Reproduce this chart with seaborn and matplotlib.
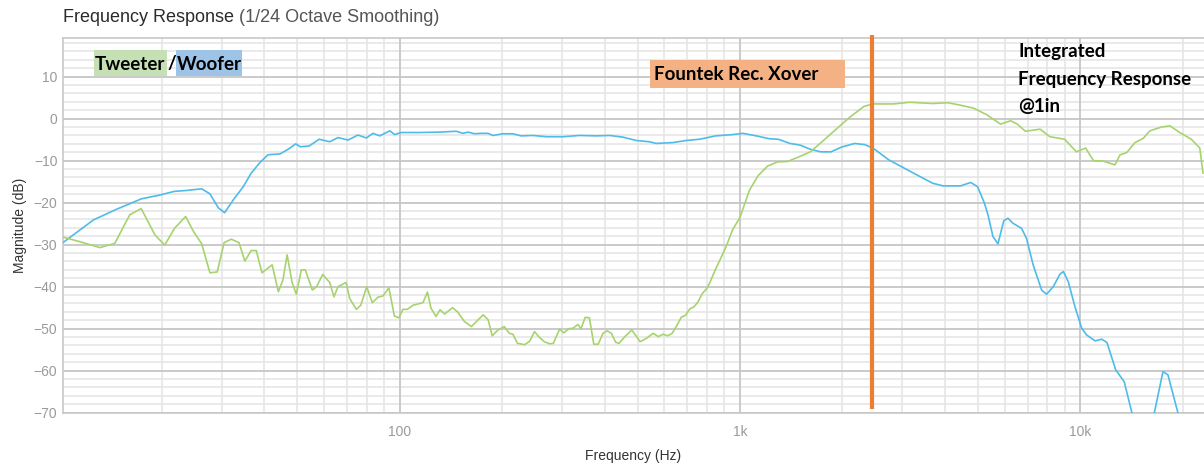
import matplotlib
matplotlib.use("Agg")
import matplotlib.pyplot as plt
from matplotlib.ticker import LogLocator, NullFormatter, FixedLocator, MultipleLocator
from matplotlib.patches import Rectangle
import seaborn as sns
import pandas as pd

# ---------------- data ----------------
woofer_freq = [10.25, 12.6, 14.7, 17.4, 19.7, 21.8, 23.6, 26.2, 27.7, 29.3, 30.6, 32.4, 34.7,
               36.6, 38.8, 41.0, 44.5, 47.0, 49.5, 51.1, 54.2, 58.0, 62.3, 65.9, 70.5, 75.4,
               79.8, 83.5, 87.4, 93.5, 96.7, 101, 114.5, 131, 146.7, 153.5, 158.8, 166, 173.8,
               181.8, 188, 201, 215, 227.5, 246, 270, 302, 338, 378, 414, 453, 496, 542, 567,
               635, 695, 761, 848, 951, 1020, 1117, 1223, 1295, 1403, 1503, 1611, 1727, 1851,
               1984, 2174, 2330, 2469, 2736, 3010, 3383, 3690, 3956, 4447, 4766, 4993, 5228,
               5360, 5540, 5730, 5960, 6130, 6340, 6720, 6950, 7270, 7700, 7960, 8330, 8720,
               8920, 9220, 9650, 10100, 10440, 11060, 11570, 11980, 12710, 13460, 14160, 15300,
               16530, 17500, 18100, 19330, 21000, 23100]
woofer_db = [-29.5, -24.1, -21.6, -19.1, -18.2, -17.3, -17.1, -16.7, -17.9, -21.2, -22.4, -19.4,
             -16.2, -13.0, -10.5, -8.6, -8.4, -7.3, -6.0, -6.7, -6.5, -4.9, -5.5, -4.5, -5.1,
             -3.9, -4.6, -3.5, -4.1, -2.9, -3.8, -3.3, -3.3, -3.2, -3.0, -3.5, -3.2, -3.6,
             -3.5, -3.5, -4.0, -3.6, -3.6, -4.1, -4.0, -4.3, -4.3, -4.0, -4.1, -4.0, -4.4,
             -5.2, -5.5, -5.9, -5.7, -5.2, -4.9, -4.1, -3.8, -3.5, -4.1, -4.8, -4.9, -5.9,
             -6.3, -7.3, -7.9, -7.9, -6.8, -5.9, -6.2, -7.1, -9.8, -11.6, -13.8, -15.4, -16.0,
             -16.0, -15.2, -16.2, -20.1, -23.0, -28.1, -29.8, -24.3, -23.7, -24.9, -26.1,
             -28.5, -34.8, -40.8, -41.8, -40.0, -37.0, -36.4, -38.8, -44.8, -49.9, -51.5,
             -52.9, -52.5, -53.3, -59.8, -62.6, -69.8, -78.0, -69.8, -60.2, -61.0, -69.8,
             -80.0, -82.0]

tweeter_freq = [10.25, 11.5, 13.15, 14.55, 16.1, 17.4, 19.1, 20.4, 21.8, 23.5, 24.8, 26.2, 27.7,
                29.1, 30.5, 32.0, 33.7, 35.1, 36.6, 37.9, 39.4, 42.2, 44.0, 45.4, 46.7, 48.3,
                49.7, 51.4, 52.8, 55.4, 57.0, 59.4, 62.3, 64.1, 65.9, 69.6, 71.3, 74.6, 76.9,
                80.0, 83.1, 86.4, 89.3, 93.0, 96.5, 99.5, 102.2, 105.3, 109.6, 117.1, 120.7,
                123.6, 127.9, 131.4, 135.6, 143, 148, 155, 162.5, 168, 176, 182, 187, 194.5,
                203, 210, 215, 222, 233, 241, 249, 257, 266, 276, 283, 295, 303.7, 314, 323,
                334, 341, 351, 361, 372, 383, 396, 407, 419, 431, 441, 459, 481, 509, 531, 556,
                576, 594, 613, 632, 654, 672, 692, 712, 732, 752, 774, 800, 818, 846, 875, 910,
                951, 1000, 1067, 1130, 1205, 1290, 1380, 1500, 1610, 1765, 1930, 2114, 2314,
                2450, 2833, 3150, 3690, 4080, 4447, 4860, 5320, 5830, 6240, 6530, 6900, 7620,
                8140, 9000, 9740, 10370, 10930, 11680, 12650, 13090, 13690, 14480, 15310,
                16010, 17320, 18330, 19600, 21200, 22450, 22950]
tweeter_db = [-28.2, -29.3, -30.7, -29.7, -22.9, -21.4, -27.7, -30.1, -26.1, -23.3, -26.9, -29.8,
              -36.7, -36.5, -29.5, -28.7, -29.5, -33.9, -31.4, -31.4, -36.7, -34.8, -41.2,
              -38.4, -32.4, -39.0, -41.8, -36.0, -36.0, -40.8, -40.0, -37.1, -39.0, -42.4,
              -40.0, -39.0, -42.8, -45.4, -44.4, -40.0, -43.8, -42.5, -42.2, -40.3, -47.0,
              -47.4, -45.4, -45.4, -44.4, -43.8, -41.3, -45.1, -47.1, -45.5, -46.5, -45.0,
              -46.0, -48.3, -49.5, -48.3, -46.7, -47.9, -51.7, -50.3, -49.5, -51.1, -51.3,
              -53.5, -53.8, -53.0, -50.7, -52.0, -53.1, -53.6, -53.5, -50.1, -51.0, -50.0,
              -49.9, -49.0, -50.0, -47.3, -47.4, -53.7, -53.7, -51.1, -50.5, -51.1, -53.2,
              -53.5, -51.9, -50.3, -53.1, -52.3, -51.1, -51.9, -51.3, -51.7, -51.1, -49.1,
              -47.3, -46.8, -45.3, -44.8, -43.7, -41.7, -40.4, -38.8, -36.0, -33.5, -30.5,
              -26.5, -23.5, -17.0, -13.6, -11.3, -10.3, -10.2, -9.0, -7.9, -5.1, -2.3, 0.5,
              2.9, 3.5, 3.5, 3.9, 3.6, 3.8, 3.2, 2.5, 0.9, -1.3, -0.5, -1.3, -3.0, -2.5, -4.3,
              -4.9, -7.9, -7.0, -10.0, -10.1, -11.0, -8.6, -8.1, -5.7, -4.7, -2.9, -2.0, -1.7,
              -3.3, -4.9, -7.0, -13.0]

xover_freq = 2450
x_tick_values = [100, 1000, 10000]
x_tick_labels = ["100", "1k", "10k"]
y_tick_values = [10, 0, -10, -20, -30, -40, -50, -60, -70]

title_main = "Frequency Response"
title_sub = " (1/24 Octave Smoothing)"
x_label = "Frequency (Hz)"
y_label = "Magnitude (dB)"

# ---------------- styling ----------------
W, H = 1204, 467
sns.set_theme(style="white")
plt.rcParams["font.family"] = ["Liberation Sans", "DejaVu Sans"]

BLUE = "#4DBCEA"
GREEN = "#A7D36E"
ORANGE = "#ED7D31"

fig = plt.figure(figsize=(W / 100, H / 100), dpi=100)
ax = fig.add_axes([63 / W, 1 - 412.7 / H, 1 - 63 / W, (412.7 - 38) / H])

df_w = pd.DataFrame({"freq": woofer_freq, "db": woofer_db})
df_t = pd.DataFrame({"freq": tweeter_freq, "db": tweeter_db})
sns.lineplot(data=df_w, x="freq", y="db", ax=ax, color=BLUE, lw=1.2,
             estimator=None, sort=False, zorder=4)
sns.lineplot(data=df_t, x="freq", y="db", ax=ax, color=GREEN, lw=1.2,
             estimator=None, sort=False, zorder=4)

ax.set_xscale("log")
ax.set_xlim(10.25, 23100)
ax.set_ylim(-70, 19.2)

ax.xaxis.set_major_locator(FixedLocator(x_tick_values))
ax.set_xticklabels(x_tick_labels)
ax.xaxis.set_minor_locator(LogLocator(base=10, subs=range(2, 10), numticks=20))
ax.xaxis.set_minor_formatter(NullFormatter())
ax.set_yticks(y_tick_values)
ax.yaxis.set_minor_locator(MultipleLocator(2))

# light minor grid via the axis, darker major grid drawn on top of it
ax.grid(which="minor", color="#e6e6e6", lw=1.2)
ax.grid(which="major", visible=False)
ax.set_axisbelow(True)
for yv in y_tick_values:
    ax.axhline(yv, color="#c6c6c6", lw=1.3, zorder=0.8)
for xv in x_tick_values:
    ax.axvline(xv, color="#c6c6c6", lw=1.3, zorder=0.8)

ax.tick_params(axis="both", which="both", length=0)
ax.tick_params(axis="y", labelsize=10, labelcolor="#9a9a9a", pad=4)
ax.tick_params(axis="x", labelsize=10, labelcolor="#9a9a9a", pad=9)

for s in ["left", "bottom", "top"]:
    ax.spines[s].set_color("#c8c8c8")
    ax.spines[s].set_linewidth(1.2)
    ax.spines[s].set_zorder(0.9)
ax.spines["right"].set_visible(False)

ax.set_xlabel(x_label, fontsize=10, color="#333333", labelpad=7)
ax.set_ylabel(y_label, fontsize=10, color="#333333", labelpad=5)

# crossover marker
ax.vlines(xover_freq, -69.2, 19.9, color=ORANGE, lw=3.0, zorder=6, clip_on=False)

# title
def fx(px):
    return px / W

def fy(py):
    return 1 - py / H

t1 = fig.text(fx(63), fy(18), title_main, fontsize=13, color="#2b2b2b", va="center", ha="left")
fig.canvas.draw()
bb = t1.get_window_extent()
fig.text(bb.x1 / W, fy(18), title_sub, fontsize=13, color="#555555", va="center", ha="left")

# annotation boxes
def box(x0, y0, x1, y1, color):
    fig.patches.append(Rectangle((fx(x0), fy(y1)), (x1 - x0) / W, (y1 - y0) / H,
                                 transform=fig.transFigure, facecolor=color,
                                 edgecolor="none", zorder=5))

box(94, 50, 167, 76, "#C5E0B4")
box(176, 50, 242, 76, "#9DC3E6")
box(650, 60, 845, 88, "#F4B183")

ann = dict(fontsize=13.5, fontweight="bold", color="black", va="center", ha="left",
           family=["Lato", "DejaVu Sans"], zorder=7)
fig.text(fx(95), fy(64), "Tweeter", **ann)
fig.text(fx(167), fy(64), "/", **ann)
fig.text(fx(177), fy(64), "Woofer", **ann)
fig.text(fx(654), fy(74), "Fountek Rec. Xover", **ann)
fig.text(fx(1018), fy(52), "Integrated", **ann)
fig.text(fx(1018), fy(80), "Frequency Response", **ann)
fig.text(fx(1018), fy(107), "@1in", **ann)

fig.savefig("out.png", dpi=100)
